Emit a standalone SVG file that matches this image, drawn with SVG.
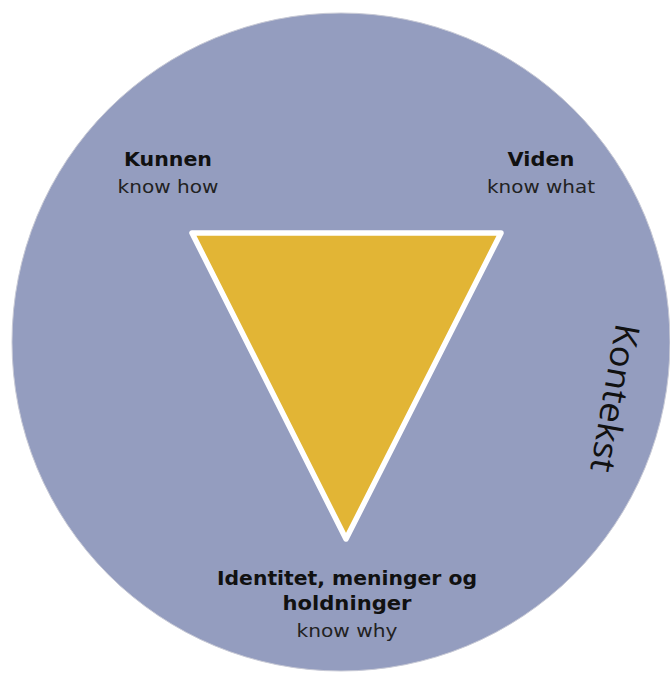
<svg xmlns="http://www.w3.org/2000/svg" width="670" height="674" viewBox="0 0 670 674">
<style>
.bold{font-family:"DejaVu Sans","Liberation Sans",sans-serif;font-weight:bold;font-size:20px;fill:#111;text-anchor:middle}
.reg{font-family:"DejaVu Sans","Liberation Sans",sans-serif;font-size:17px;fill:#222;text-anchor:middle}
.ctx{font-family:"Open Sans","Liberation Sans",sans-serif;font-size:34px;fill:#111;text-anchor:middle}
</style>
<rect width="670" height="674" fill="#ffffff"/>
<g id="kontekst-circle">
<circle cx="341" cy="342" r="329" fill="#949DBF" stroke="#c8cad6" stroke-width="1"/>
<text class="ctx" transform="translate(614,398) rotate(100)" dy="11" textLength="150" lengthAdjust="spacingAndGlyphs">Kontekst</text>
</g>
<g id="triangle">
<polygon points="192,233 501,233 346,539" fill="#E2B535" stroke="#ffffff" stroke-width="5.5" stroke-linejoin="round"/>
</g>
<g id="kunnen">
<text class="bold" x="168" y="166" textLength="88" lengthAdjust="spacingAndGlyphs">Kunnen</text>
<text class="reg" x="168" y="193" textLength="101" lengthAdjust="spacingAndGlyphs">know how</text>
</g>
<g id="viden">
<text class="bold" x="541" y="166" textLength="67" lengthAdjust="spacingAndGlyphs">Viden</text>
<text class="reg" x="541" y="193" textLength="108" lengthAdjust="spacingAndGlyphs">know what</text>
</g>
<g id="identitet">
<text class="bold" x="347" y="585" textLength="260" lengthAdjust="spacingAndGlyphs">Identitet, meninger og</text>
<text class="bold" x="347" y="610" textLength="129" lengthAdjust="spacingAndGlyphs">holdninger</text>
<text class="reg" x="347" y="637" textLength="101" lengthAdjust="spacingAndGlyphs">know why</text>
</g>
<g id="connectors"></g>
</svg>
